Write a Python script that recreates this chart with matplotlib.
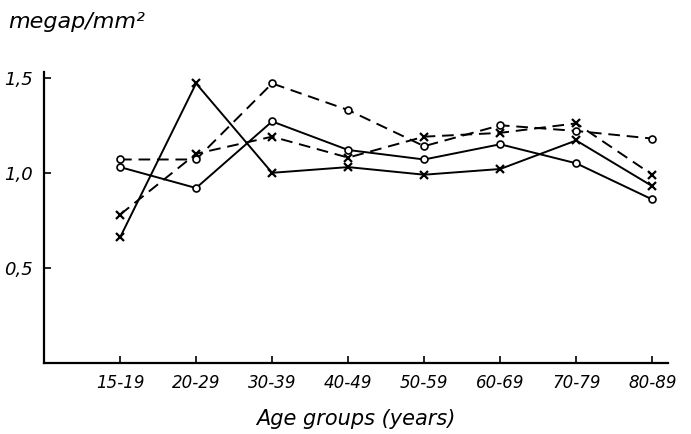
import matplotlib
matplotlib.use('Agg')
import matplotlib.pyplot as plt

ages = ['15-19', '20-29', '30-39', '40-49', '50-59', '60-69', '70-79', '80-89']
solid_x = [0.66, 1.47, 1.00, 1.03, 0.99, 1.02, 1.17, 0.93]
solid_o = [1.03, 0.92, 1.27, 1.12, 1.07, 1.15, 1.05, 0.86]
dashed_x = [0.78, 1.10, 1.19, 1.08, 1.19, 1.21, 1.26, 0.99]
dashed_o = [1.07, 1.07, 1.47, 1.33, 1.14, 1.25, 1.22, 1.18]
yticks = [0.5, 1.0, 1.5]
ytick_labels = ['0,5', '1,0', '1,5']

fig = plt.figure(figsize=(6.91, 4.34), dpi=100)
ax = fig.add_axes([0.0637, 0.1636, 0.9033, 0.6705])

pos = list(range(len(ages)))
dash = (0, (6, 3.5))

ax.plot(pos, solid_x, color='black', lw=1.4, marker='x', ms=6, mew=1.6)
ax.plot(pos, solid_o, color='black', lw=1.4, marker='o', ms=5, mfc='white', mew=1.2)
ax.plot(pos, dashed_x, color='black', lw=1.4, ls=dash, marker='x', ms=6, mew=1.6)
ax.plot(pos, dashed_o, color='black', lw=1.4, ls=dash, marker='o', ms=5, mfc='white', mew=1.2)

ax.set_xlim(-1, 7.21)
ax.set_ylim(0, 1.53)
ax.set_xticks(pos)
ax.set_xticklabels(ages, fontsize=12, style='italic')
ax.set_yticks(yticks)
ax.set_yticklabels(ytick_labels, fontsize=13, style='italic')
ax.tick_params(direction='in', length=5, width=1.2, pad=8)

for s in ['top', 'right']:
    ax.spines[s].set_visible(False)
for s in ['left', 'bottom']:
    ax.spines[s].set_linewidth(1.6)

ax.set_xlabel('Age groups (years)', fontsize=15, style='italic', labelpad=12)
fig.text(0.012, 0.935, 'megap/mm²', fontsize=16, style='italic')

fig.savefig('out.png', dpi=100)
